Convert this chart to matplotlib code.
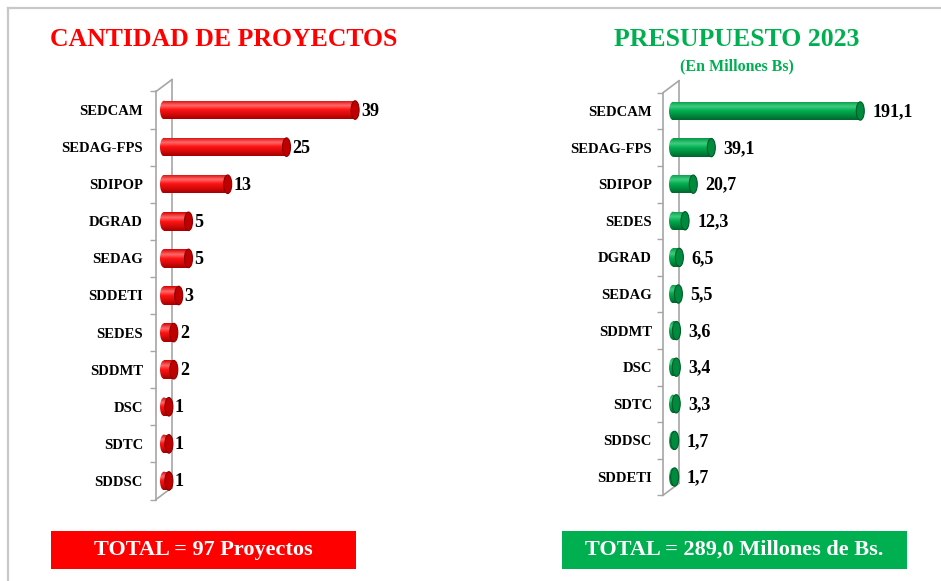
import numpy as np
import matplotlib
matplotlib.use("Agg")
import matplotlib.pyplot as plt
from matplotlib.colors import LinearSegmentedColormap
from matplotlib.patches import Ellipse, Rectangle
from matplotlib.lines import Line2D

plt.rcParams['font.family'] = ['Liberation Serif', 'DejaVu Serif']
plt.rcParams['font.weight'] = 'bold'

# data
proj_cats = ['SEDCAM', 'SEDAG-FPS', 'SDIPOP', 'DGRAD', 'SEDAG', 'SDDETI',
             'SEDES', 'SDDMT', 'DSC', 'SDTC', 'SDDSC']
proj_vals = [39, 25, 13, 5, 5, 3, 2, 2, 1, 1, 1]
pres_cats = ['SEDCAM', 'SEDAG-FPS', 'SDIPOP', 'SEDES', 'DGRAD', 'SEDAG',
             'SDDMT', 'DSC', 'SDTC', 'SDDSC', 'SDDETI']
pres_vals = [191.1, 39.1, 20.7, 12.3, 6.5, 5.5, 3.6, 3.4, 3.3, 1.7, 1.7]
pres_labels = ['191,1', '39,1', '20,7', '12,3', '6,5', '5,5', '3,6', '3,4', '3,3', '1,7', '1,7']

W, H = 941, 581
RED, GREEN = '#FF0000', '#00B050'
GRAY = '#A6A6A6'

red_cmap = LinearSegmentedColormap.from_list(
    'r', [(0, '#D80000'), (0.28, '#FF6A6A'), (0.5, '#FF1414'), (1, '#A80000')])
green_cmap = LinearSegmentedColormap.from_list(
    'g', [(0, '#009A44'), (0.28, '#40CC80'), (0.5, '#00B050'), (1, '#00662E')])

fig = plt.figure(figsize=(W / 100, H / 100), dpi=100)
fig.patch.set_facecolor('white')

# frame lines
fig.add_artist(Line2D([8 / W, 8 / W], [0, 1 - 8 / H], color='#C8C8C8', lw=1.6))
fig.add_artist(Line2D([8 / W, 1], [1 - 8 / H, 1 - 8 / H], color='#C8C8C8', lw=1.6))


def px_ax(left, top, width, height):
    return fig.add_axes([left / W, (H - top - height) / H, width / W, height / H])


def cyl_chart(ax, cats, vals, labels, cmap, cap_col, edge_col, ppu, zero_px,
              width_px, height_px, lab_pad, val_off):
    n = len(cats)
    y = np.arange(n)
    bh = 0.5
    cap = 8 / ppu
    x0 = -zero_px / ppu
    bars = ax.barh(y, vals, height=bh, facecolor='none', edgecolor='none', zorder=3)
    grad = np.linspace(0, 1, 64).reshape(-1, 1)
    for i, (b, v) in enumerate(zip(bars, vals)):
        im = ax.imshow(grad, cmap=cmap, aspect='auto', interpolation='bilinear',
                       extent=(-cap, v, i + bh / 2, i - bh / 2), zorder=3)
        im.set_clip_path(b)
        le = Ellipse((0, i), cap, bh, facecolor='none', edgecolor='none', zorder=3)
        ax.add_patch(le)
        im2 = ax.imshow(grad, cmap=cmap, aspect='auto', interpolation='bilinear',
                        extent=(-cap, cap, i + bh / 2, i - bh / 2), zorder=3)
        im2.set_clip_path(le)
        ax.add_patch(Ellipse((v, i), cap, bh, facecolor=cap_col, edgecolor=edge_col,
                             lw=0.8, zorder=4))
        ax.annotate(labels[i], (v, i), xytext=(val_off, -1), textcoords='offset pixels',
                    ha='left', va='center', fontsize=13, fontweight='bold', color='black')
    ax.set_xlim(x0, x0 + width_px / ppu)
    ax.set_ylim(n - 0.5, -0.5)
    ax.set_yticks(y)
    ax.set_yticklabels(cats, fontsize=10.5, fontweight='bold')
    ax.set_yticks(np.arange(n + 1) - 0.5, minor=True)
    ax.tick_params(axis='y', which='major', length=0, pad=lab_pad)
    ax.tick_params(axis='y', which='minor', length=4.5, width=1.0, color=GRAY,
                   direction='out')
    ax.set_xticks([])
    for s in ['top', 'right', 'bottom']:
        ax.spines[s].set_visible(False)
    ax.spines['left'].set_color(GRAY)
    ax.spines['left'].set_linewidth(1.2)
    ax.patch.set_alpha(0)
    # back wall of the 3D axis
    dx, dy = 16 / width_px, 12 / height_px
    kw = dict(transform=ax.transAxes, color=GRAY, lw=1.2, clip_on=False, zorder=1)
    ax.plot([dx, dx], [dy, 1 + dy], **kw)
    ax.plot([0, dx], [1, 1 + dy], **kw)
    ax.plot([0, dx], [0, dy], **kw)


axL = px_ax(156, 91.5, 240, 408)
cyl_chart(axL, proj_cats, proj_vals, [str(v) for v in proj_vals], red_cmap,
          '#C00000', '#8A0000', 4.9, 8, 240, 408, 9.4, 6)

axR = px_ax(663, 92.7, 270, 402.6)
cyl_chart(axR, pres_cats, pres_vals, pres_labels, green_cmap,
          '#008A3E', '#005A28', 0.98, 10, 270, 402.6, 7.9, 12)

# titles
fig.text(224 / W, 1 - 40 / H, 'CANTIDAD DE PROYECTOS', ha='center', va='center',
         fontsize=18.5, fontweight='bold', color=RED)
fig.text(737 / W, 1 - 40 / H, 'PRESUPUESTO 2023', ha='center', va='center',
         fontsize=18.5, fontweight='bold', color=GREEN)
fig.text(737 / W, 1 - 66 / H, '(En Millones Bs)', ha='center', va='center',
         fontsize=11.5, fontweight='bold', color=GREEN)

# total boxes
fig.add_artist(Rectangle((51 / W, (H - 569) / H), 305 / W, 38 / H,
                         transform=fig.transFigure, facecolor=RED, edgecolor='none'))
fig.text(203.5 / W, 1 - 550 / H, 'TOTAL = 97 Proyectos', ha='center', va='center',
         fontsize=16, fontweight='bold', color='white')
fig.add_artist(Rectangle((562 / W, (H - 569) / H), 345 / W, 38 / H,
                         transform=fig.transFigure, facecolor=GREEN, edgecolor='none'))
fig.text(734.5 / W, 1 - 550 / H, 'TOTAL = 289,0 Millones de Bs.', ha='center', va='center',
         fontsize=16, fontweight='bold', color='white')

fig.savefig('out.png', dpi=100)
